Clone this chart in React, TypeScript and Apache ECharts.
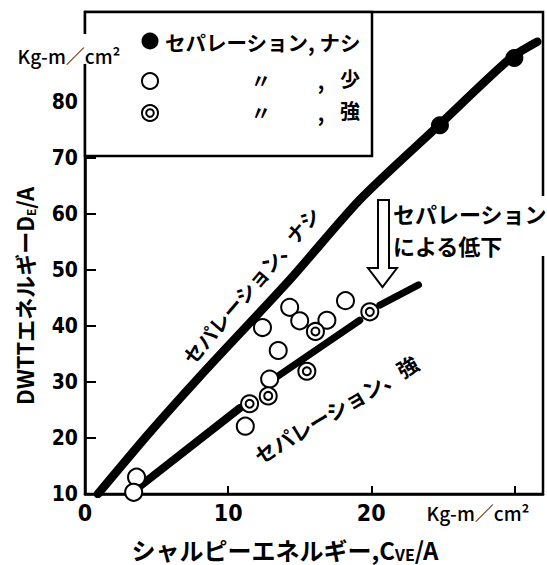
import React, { useEffect, useRef } from 'react';
import * as echarts from 'echarts';

// ---- data ----
const xTickLabels = [0, 10, 20];
const yTickLabels = [10, 20, 30, 40, 50, 60, 70, 80];

// thick curve "セパレーション、ナシ"
const lineNone: [number, number][] = [
  [0.9, 10], [4.5, 20.9], [8.0, 30.9], [14.3, 48.2], [19.2, 62.5], [24.6, 75.5], [29.7, 87.7], [31.6, 90.7],
];
// curve "セパレーション、強" (drawn in pieces, interrupted at the circles)
const lineStrongA: [number, number][] = [[3.8, 11.3], [10.8, 25.3]];
const lineStrongB: [number, number][] = [[13.4, 30.9], [19.2, 41.0]];
const lineStrongC: [number, number][] = [[20.6, 43.7], [23.3, 47.3]];

// ● セパレーション ナシ
const pointsNone: [number, number][] = [[24.8, 75.8], [30.0, 87.8]];
// ○ セパレーション 少
const pointsWeak: [number, number][] = [
  [3.6, 13.0], [3.4, 10.3], [11.2, 22.1], [12.9, 30.5], [13.5, 35.6],
  [12.4, 39.7], [14.3, 43.3], [15.0, 40.9], [16.9, 41.0], [18.2, 44.5],
];
// ◎ セパレーション 強
const pointsStrong: [number, number][] = [
  [11.5, 26.1], [12.8, 27.5], [15.5, 31.9], [16.1, 39.0], [19.9, 42.5],
];

const JP = '"Noto Sans CJK JP", "Noto Sans", sans-serif';
const NUM = '"Liberation Sans Narrow", "DejaVu Sans Condensed", "Liberation Sans", sans-serif';

function txt(text: string, x: number, y: number, fontSize: number, extra: any = {}, rotation = 0) {
  return {
    type: 'text',
    x,
    y,
    rotation,
    z: 110,
    style: {
      text,
      fontSize,
      fontFamily: JP,
      fontWeight: 'bold',
      fill: '#000',
      align: 'center',
      verticalAlign: 'middle',
      ...extra,
    },
  };
}

export default function App() {
  const ref = useRef<HTMLDivElement>(null);

  useEffect(() => {
    const chart = echarts.init(ref.current!, null, { renderer: 'svg' });
    const lineStyleStrong = { color: '#000', width: 7, cap: 'round' };
    const openItem = { color: '#fff', borderColor: '#000', borderWidth: 2, opacity: 1 };
    const option: any = {
      animation: false,
      backgroundColor: '#fff',
      grid: {
        left: 85, right: 4, top: 12, bottom: 71,
        show: true, borderColor: '#000', borderWidth: 2.5, backgroundColor: 'transparent',
      },
      xAxis: {
        type: 'value', min: 0, max: 32, interval: 10,
        axisLine: { show: true, onZero: false, lineStyle: { color: '#000', width: 2.5 } },
        axisTick: { show: true, inside: true, length: 8, lineStyle: { color: '#000', width: 2 } },
        axisLabel: {
          margin: 7, color: '#000', fontSize: 23, fontFamily: NUM, fontWeight: 'bold',
          formatter: (v: number) => (xTickLabels.includes(v) ? String(v) : ''),
        },
        splitLine: { show: false },
      },
      yAxis: {
        type: 'value', min: 10, max: 96, interval: 10,
        axisLine: { show: true, onZero: false, lineStyle: { color: '#000', width: 2.5 } },
        axisTick: { show: true, inside: true, length: 11, lineStyle: { color: '#000', width: 2 } },
        axisLabel: {
          margin: 7, color: '#000', fontSize: 21, fontFamily: NUM, fontWeight: 'bold',
          formatter: (v: number) => (yTickLabels.includes(v) ? String(v) : ''),
        },
        splitLine: { show: false },
      },
      series: [
        {
          name: 'ナシ線', type: 'line', data: lineNone, symbol: 'none', z: 2, smooth: 0.25,
          lineStyle: { color: '#000', width: 8.5, cap: 'round', join: 'round' },
        },
        { name: '強線A', type: 'line', data: lineStrongA, symbol: 'none', z: 2, lineStyle: { ...lineStyleStrong, width: 8 } },
        { name: '強線B', type: 'line', data: lineStrongB, symbol: 'none', z: 2, lineStyle: lineStyleStrong },
        { name: '強線C', type: 'line', data: lineStrongC, symbol: 'none', z: 2, lineStyle: lineStyleStrong },
        {
          name: 'セパレーション ナシ', type: 'scatter', data: pointsNone, symbolSize: 18, z: 5, clip: false,
          itemStyle: { color: '#000', opacity: 1 },
        },
        {
          name: 'セパレーション 少', type: 'scatter', data: pointsWeak, symbolSize: 17, z: 5, clip: false,
          itemStyle: openItem,
        },
        {
          name: 'セパレーション 強', type: 'scatter', data: pointsStrong, symbolSize: 17, z: 5, clip: false,
          itemStyle: openItem,
        },
        {
          name: 'セパレーション 強 (内円)', type: 'scatter', data: pointsStrong, symbolSize: 8, z: 6, clip: false,
          itemStyle: openItem,
        },
      ],
      graphic: [
        // legend box
        { type: 'rect', z: 100, shape: { x: 85, y: 12, width: 287, height: 144 }, style: { fill: '#fff', stroke: '#000', lineWidth: 2.5 } },
        { type: 'circle', z: 110, shape: { cx: 150, cy: 41, r: 8.5 }, style: { fill: '#000' } },
        { type: 'circle', z: 110, shape: { cx: 150, cy: 81, r: 8 }, style: { fill: '#fff', stroke: '#000', lineWidth: 2 } },
        { type: 'circle', z: 110, shape: { cx: 150, cy: 113, r: 8 }, style: { fill: '#fff', stroke: '#000', lineWidth: 2 } },
        { type: 'circle', z: 111, shape: { cx: 150, cy: 113, r: 3.8 }, style: { fill: '#fff', stroke: '#000', lineWidth: 2 } },
        txt('セパレーション, ナシ', 165, 42, 20.5, { align: 'left' }),
        txt('〃', 261, 80, 20),
        txt(',', 321, 80, 20),
        txt('少', 350, 78, 20),
        txt('〃', 261, 112, 20),
        txt(',', 321, 112, 20),
        txt('強', 350, 110, 20),
        // top-left unit (breaks the axis line)
        { type: 'rect', z: 100, shape: { x: 78, y: 34, width: 16, height: 30 }, style: { fill: '#fff' } },
        txt('Kg-m／cm²', 69, 55, 19, { fontWeight: 500 }),
        // bottom-right unit
        txt('Kg-m／cm²', 478, 512, 19, { fontWeight: 500 }),
        // axis titles
        {
          type: 'text', x: 24, y: 296, rotation: Math.PI / 2, z: 110,
          style: {
            text: '{a|DWTTエネルギーD}{s|E}{a|/A}',
            align: 'center', verticalAlign: 'middle',
            rich: {
              a: { fontSize: 22, lineHeight: 24, fontFamily: JP, fontWeight: 'bold', fill: '#000', color: '#000' },
              s: { fontSize: 12, lineHeight: 24, fontFamily: JP, fontWeight: 'bold', fill: '#000', color: '#000', verticalAlign: 'bottom' },
            },
          },
        },
        {
          type: 'text', x: 285, y: 549, z: 110,
          style: {
            text: '{a|シャルピーエネルギー,C}{s|VE}{a|/A}',
            align: 'center', verticalAlign: 'middle',
            rich: {
              a: { fontSize: 24, lineHeight: 26, fontFamily: JP, fontWeight: 'bold', fill: '#000', color: '#000' },
              s: { fontSize: 16, lineHeight: 26, fontFamily: JP, fontWeight: 'bold', fill: '#000', color: '#000', verticalAlign: 'bottom' },
            },
          },
        },
        // annotation: arrow + text
        {
          type: 'polygon', z: 100,
          shape: { points: [[378, 200], [389, 200], [389, 268], [397, 268], [382.5, 287], [368, 268], [378, 268]] },
          style: { fill: '#fff', stroke: '#000', lineWidth: 2 },
        },
        { type: 'rect', z: 100, shape: { x: 538, y: 196, width: 9, height: 60 }, style: { fill: '#fff' } },
        txt('セパレーション', 393, 213, 22, { align: 'left' }),
        txt('による低下', 393, 245, 22, { align: 'left' }),
        // curve labels
        txt('セパレーション、ナシ', 251, 285, 20, {}, (49.6 * Math.PI) / 180),
        txt('セパレーション、強', 336, 409, 21, {}, (31 * Math.PI) / 180),
      ],
    };
    chart.setOption(option);
    return () => chart.dispose();
  }, []);

  return (
    <div
      ref={ref}
      style={{ position: 'fixed', left: 0, top: 0, width: 547, height: 565, background: '#fff' }}
    />
  );
}
